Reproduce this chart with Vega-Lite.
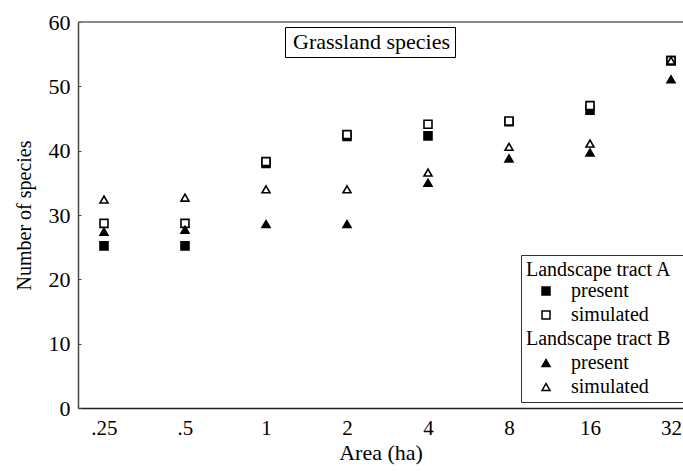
{
  "$schema": "https://vega.github.io/schema/vega-lite/v6.json",
  "width": 605,
  "height": 386,
  "autosize": {"type": "none"},
  "padding": {"left": 78, "top": 22, "right": 0, "bottom": 63},
  "background": "white",
  "config": {
    "view": {"stroke": null},
    "font": "Liberation Serif",
    "axis": {"labelFont": "Liberation Serif", "titleFont": "Liberation Serif", "labelColor": "black", "titleColor": "black", "grid": false, "titleFontWeight": "normal"},
    "legend": {"labelFont": "Liberation Serif", "titleFont": "Liberation Serif"}
  },
  "layer": [
    {
      "data": {"values": [{"species": 60, "panel": "Grassland species"}]},
      "mark": {"type": "rule", "stroke": "#666666", "strokeWidth": 1.5},
      "encoding": {
        "y": {"field": "species", "type": "quantitative", "title": "Number of species"},
        "opacity": {
          "field": "panel", "type": "ordinal",
          "scale": {"range": [1, 1]},
          "legend": {
            "title": null, "orient": "none", "legendX": 207, "legendY": 5,
            "strokeColor": "black", "padding": 4, "fillColor": "white",
            "labelFontSize": 22, "labelColor": "black", "labelLimit": 300,
            "symbolType": "circle", "symbolSize": 0.01, "symbolStrokeWidth": 0,
            "symbolFillColor": "transparent", "symbolStrokeColor": "transparent",
            "labelOffset": -18
          }
        }
      }
    },
    {
      "data": {"values": [
        {"area": ".25", "series": "A present", "species": 25.2},
        {"area": ".5", "series": "A present", "species": 25.2},
        {"area": "1", "series": "A present", "species": 38.0},
        {"area": "2", "series": "A present", "species": 42.2},
        {"area": "4", "series": "A present", "species": 42.3},
        {"area": "8", "series": "A present", "species": 44.5},
        {"area": "16", "series": "A present", "species": 46.3},
        {"area": "32", "series": "A present", "species": 54.0},
        {"area": ".25", "series": "A simulated", "species": 28.7},
        {"area": ".5", "series": "A simulated", "species": 28.7},
        {"area": "1", "series": "A simulated", "species": 38.3},
        {"area": "2", "series": "A simulated", "species": 42.5},
        {"area": "4", "series": "A simulated", "species": 44.1},
        {"area": "8", "series": "A simulated", "species": 44.6},
        {"area": "16", "series": "A simulated", "species": 47.0},
        {"area": "32", "series": "A simulated", "species": 54.0},
        {"area": ".25", "series": "B present", "species": 27.4},
        {"area": ".5", "series": "B present", "species": 27.7},
        {"area": "1", "series": "B present", "species": 28.6},
        {"area": "2", "series": "B present", "species": 28.6},
        {"area": "4", "series": "B present", "species": 35.0},
        {"area": "8", "series": "B present", "species": 38.8},
        {"area": "16", "series": "B present", "species": 39.7},
        {"area": "32", "series": "B present", "species": 51.1},
        {"area": ".25", "series": "B simulated", "species": 32.4},
        {"area": ".5", "series": "B simulated", "species": 32.7},
        {"area": "1", "series": "B simulated", "species": 34.0},
        {"area": "2", "series": "B simulated", "species": 34.0},
        {"area": "4", "series": "B simulated", "species": 36.6},
        {"area": "8", "series": "B simulated", "species": 40.6},
        {"area": "16", "series": "B simulated", "species": 41.1},
        {"area": "32", "series": "B simulated", "species": 54.0}
      ]},
      "mark": {"type": "point", "filled": true, "stroke": "black", "strokeWidth": 1.6, "size": 64, "opacity": 1},
      "encoding": {
        "x": {
          "field": "area", "type": "ordinal",
          "scale": {"type": "point", "domain": [".25", ".5", "1", "2", "4", "8", "16", "32"], "padding": 0.2346, "align": 0.684},
          "axis": {"title": "Area (ha)", "titleFontSize": 22, "titlePadding": 4, "labelFontSize": 21, "labelAngle": 0, "ticks": false, "labelPadding": 9, "domainColor": "#222222", "domainWidth": 1.5}
        },
        "y": {
          "field": "species", "type": "quantitative",
          "scale": {"domain": [0, 60], "nice": false},
          "axis": {"title": "Number of species", "titleFontSize": 20, "titlePadding": 14, "labelFontSize": 22, "values": [0, 10, 20, 30, 40, 50, 60], "tickSize": -3, "tickColor": "#444444", "labelPadding": 11, "domainColor": "#444444", "domainWidth": 1.5}
        },
        "shape": {
          "field": "series", "type": "nominal",
          "scale": {"domain": ["A present", "A simulated", "Bhead", "B present", "B simulated"], "range": ["square", "square", "M0,0", "triangle-up", "triangle-up"]},
          "legend": {
            "title": "Landscape tract A", "orient": "none", "legendX": 443, "legendY": 233,
            "strokeColor": "#333333", "padding": 5, "fillColor": "white",
            "titleFontSize": 20, "titleFontWeight": "normal", "titleColor": "black", "titlePadding": 1, "titleLimit": 300,
            "labelFontSize": 20, "labelColor": "black", "labelLimit": 300,
            "symbolSize": 64, "symbolOffset": 10, "labelOffset": -30, "rowPadding": 4,
            "labelExpr": "datum.value === 'Bhead' ? 'Landscape tract B\u00a0\u00a0\u00a0\u00a0\u00a0\u00a0\u200b' : (indexof(datum.value, 'present') >= 0 ? '\u200b\u00a0\u00a0\u00a0\u00a0\u00a0\u00a0\u00a0\u00a0\u00a0present' : '\u200b\u00a0\u00a0\u00a0\u00a0\u00a0\u00a0\u00a0\u00a0\u00a0simulated')"
          }
        },
        "fill": {
          "field": "series", "type": "nominal",
          "scale": {"domain": ["A present", "A simulated", "Bhead", "B present", "B simulated"], "range": ["black", "white", "white", "black", "white"]},
          "legend": {
            "title": "Landscape tract A", "orient": "none", "legendX": 443, "legendY": 233,
            "strokeColor": "#333333", "padding": 5, "fillColor": "white",
            "titleFontSize": 20, "titleFontWeight": "normal", "titleColor": "black", "titlePadding": 1, "titleLimit": 300,
            "labelFontSize": 20, "labelColor": "black", "labelLimit": 300,
            "symbolSize": 64, "symbolOffset": 10, "labelOffset": -30, "rowPadding": 4,
            "labelExpr": "datum.value === 'Bhead' ? 'Landscape tract B\u00a0\u00a0\u00a0\u00a0\u00a0\u00a0\u200b' : (indexof(datum.value, 'present') >= 0 ? '\u200b\u00a0\u00a0\u00a0\u00a0\u00a0\u00a0\u00a0\u00a0\u00a0present' : '\u200b\u00a0\u00a0\u00a0\u00a0\u00a0\u00a0\u00a0\u00a0\u00a0simulated')"
          }
        }
      }
    }
  ]
}
